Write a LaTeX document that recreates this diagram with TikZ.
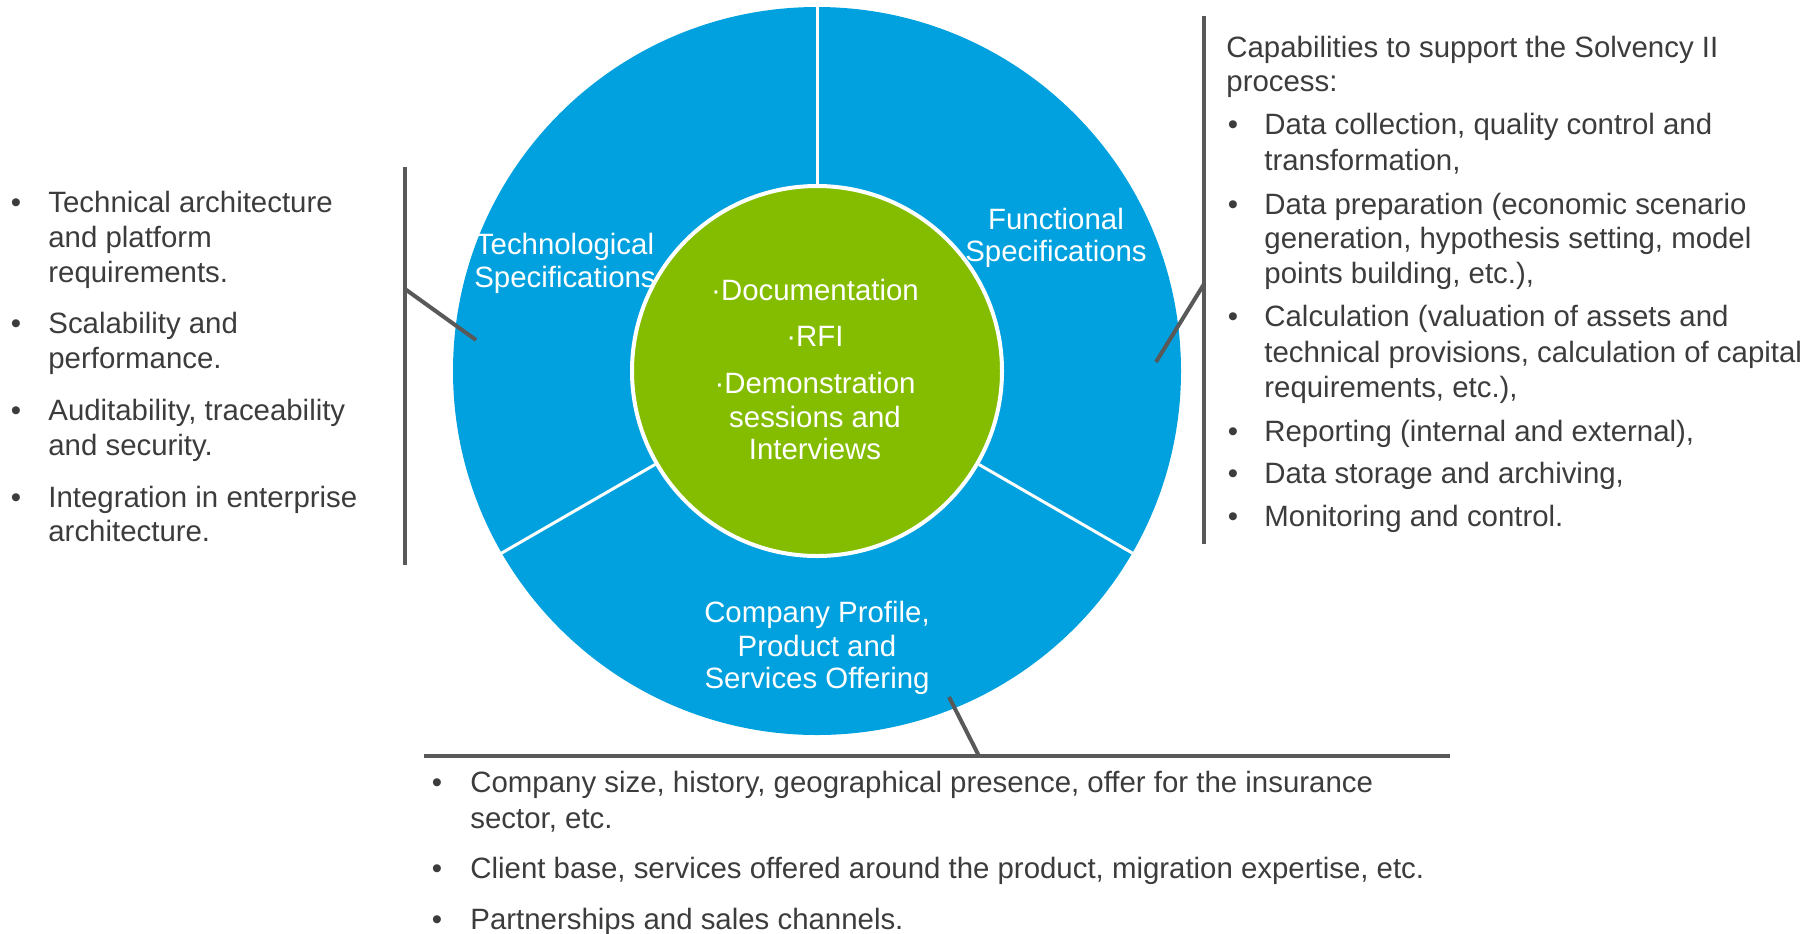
\documentclass[tikz,border=0pt]{standalone}
\usepackage{fontspec}
\setmainfont{Liberation Sans}
\definecolor{cblue}{HTML}{00A1DE}
\definecolor{cgreen}{HTML}{84BD00}
\definecolor{cgray}{HTML}{595959}
\definecolor{ctxt}{HTML}{3C3C3C}
\newcommand\fsz{\fontsize{14.7}{17.5}\selectfont}
\tikzset{
 lst/.style={anchor=base west, inner sep=0pt, text=ctxt, font=\fsz},
 bul/.style={anchor=base, inner sep=0pt, text=ctxt, font=\fsz},
 lbl/.style={anchor=base, inner sep=0pt, text=white, font=\fsz},
 lead/.style={draw=cgray, line width=2pt},
 sep/.style={draw=white, line width=1.5pt}
}
\begin{document}
\begin{tikzpicture}[x=0.5pt,y=-0.5pt]
\useasboundingbox (0,0) rectangle (1815,933);
% wheel
\node[circle, fill=cblue, minimum size=364pt, inner sep=0pt] (outer) at (817,371) {};
\node[circle, fill=cgreen, draw=white, line width=2pt, minimum size=185pt, inner sep=0pt] (inner) at (817,371) {};
\draw[sep] (inner.90) -- (outer.90);
\draw[sep] (inner.-30) -- (outer.-30);
\draw[sep] (inner.210) -- (outer.210);
% leaders
\coordinate (L1) at (405,167); \coordinate (L2) at (405,565);
\coordinate (L3) at (405,289); \coordinate (L4) at (476,340);
\draw[lead] (L1) -- (L2); \draw[lead] (L3) -- (L4);
\coordinate (R1) at (1204,16); \coordinate (R2) at (1204,544);
\coordinate (R3) at (1204,284); \coordinate (R4) at (1156,362);
\draw[lead] (R1) -- (R2); \draw[lead] (R3) -- (R4);
\coordinate (B1) at (424,756); \coordinate (B2) at (1450,756);
\coordinate (B3) at (979,756); \coordinate (B4) at (949,697);
\draw[lead] (B1) -- (B2); \draw[lead] (B3) -- (B4);
% wheel labels
\node[lbl] (t1) at (565,254) {Technological};
\node[lbl] (t2) at (565,287) {Specifications};
\node[lbl] (f1) at (1056,229) {Functional};
\node[lbl] (f2) at (1056,261) {Specifications};
\node[lbl] (g1) at (815,300) {·Documentation};
\node[lbl] (g2) at (815,346) {·RFI};
\node[lbl] (g3) at (815,393) {·Demonstration};
\node[lbl] (g4) at (815,427) {sessions and};
\node[lbl] (g5) at (815,459) {Interviews};
\node[lbl] (c1) at (817,622) {Company Profile,};
\node[lbl] (c2) at (817,656) {Product and};
\node[lbl] (c3) at (817,688) {Services Offering};
% left list
\node[bul] (lb1) at (16,212) {•};
\node[lst] (l1) at (48,212) {Technical architecture};
\node[lst] (l2) at (48,247) {and platform};
\node[lst] (l3) at (48,282) {requirements.};
\node[bul] (lb2) at (16,333) {•};
\node[lst] (l4) at (48,333) {Scalability and};
\node[lst] (l5) at (48,368) {performance.};
\node[bul] (lb3) at (16,420) {•};
\node[lst] (l6) at (48,420) {Auditability, traceability};
\node[lst] (l7) at (48,455) {and security.};
\node[bul] (lb4) at (16,507) {•};
\node[lst] (l8) at (48,507) {Integration in enterprise};
\node[lst] (l9) at (48,541) {architecture.};
% right list
\node[lst] (r0) at (1226,57) {Capabilities to support the Solvency II};
\node[lst] (r00) at (1226,91) {process:};
\node[bul] (rb1) at (1233,134) {•};
\node[lst] (r1) at (1264,134) {Data collection, quality control and};
\node[lst] (r2) at (1264,170) {transformation,};
\node[bul] (rb2) at (1233,214) {•};
\node[lst] (r3) at (1264,214) {Data preparation (economic scenario};
\node[lst] (r4) at (1264,248) {generation, hypothesis setting, model};
\node[lst] (r5) at (1264,283) {points building, etc.),};
\node[bul] (rb3) at (1233,326) {•};
\node[lst] (r6) at (1264,326) {Calculation (valuation of assets and};
\node[lst] (r7) at (1264,362) {technical provisions, calculation of capital};
\node[lst] (r8) at (1264,397) {requirements, etc.),};
\node[bul] (rb4) at (1233,441) {•};
\node[lst] (r9) at (1264,441) {Reporting (internal and external),};
\node[bul] (rb5) at (1233,483) {•};
\node[lst] (r10) at (1264,483) {Data storage and archiving,};
\node[bul] (rb6) at (1233,526) {•};
\node[lst] (r11) at (1264,526) {Monitoring and control.};
% bottom list
\node[bul] (bb1) at (437,792) {•};
\node[lst] (b1) at (470,792) {Company size, history, geographical presence, offer for the insurance};
\node[lst] (b2) at (470,828) {sector, etc.};
\node[bul] (bb2) at (437,878) {•};
\node[lst] (b3) at (470,878) {Client base, services offered around the product, migration expertise, etc.};
\node[bul] (bb3) at (437,929) {•};
\node[lst] (b4) at (470,929) {Partnerships and sales channels.};
\end{tikzpicture}
\end{document}
